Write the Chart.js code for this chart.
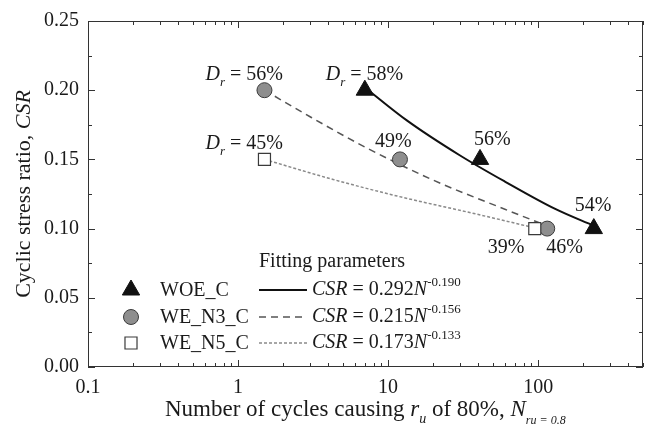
<!DOCTYPE html>
<html>
<head>
<meta charset="utf-8">
<script src="https://cdn.jsdelivr.net/npm/chart.js@4.4.0/dist/chart.umd.min.js"></script>
<style>
    html, body { margin: 0; padding: 0; background: #fff; }
</style>
</head>
<body>
<canvas id="myChart" width="654" height="426"></canvas>
<script>
// measured points (N cycles to ru = 0.8, CSR) and relative density labels
var woeN = [7, 41, 235];
var woeCSR = [0.20, 0.15, 0.10];
var woeDr = ['58%', '56%', '54%'];

var n3N = [1.5, 12, 115];
var n3CSR = [0.20, 0.15, 0.10];
var n3Dr = ['56%', '49%', '46%'];

var n5N = [1.5, 95];
var n5CSR = [0.15, 0.10];
var n5Dr = ['45%', '39%'];

// fitted curves
var woeFitN = [7, 13.4, 30, 60, 131, 235];
var woeFitCSR = [0.202, 0.178, 0.153, 0.134, 0.114, 0.102];

var n3FitN = [1.5, 3, 7, 20, 60, 115];
var n3FitCSR = [0.200, 0.181, 0.159, 0.135, 0.114, 0.102];

var n5FitN = [1.5, 4.3, 11.5, 38.8, 95];
var n5FitCSR = [0.150, 0.1355, 0.1235, 0.1105, 0.1005];

var seriesNames = ['WOE_C', 'WE_N3_C', 'WE_N5_C'];
var fitA = ['0.292', '0.215', '0.173'];
var fitB = ['-0.190', '-0.156', '-0.133'];

var xTicks = [0.1, 1, 10, 100];
var yTicks = [0, 0.05, 0.10, 0.15, 0.20, 0.25];

var SERIF = "'Liberation Serif', 'Times New Roman', serif";
var INK = '#1a1a1a';

function pts(xs, ys) {
    return xs.map(function (x, i) { return { x: x, y: ys[i] }; });
}

function font(sz, it) {
    return (it ? 'italic ' : '') + sz + 'px ' + SERIF;
}

// draws text made of several pieces (italic, sub/superscript)
function richText(ctx, x, y, parts, align) {
    var w = 0;
    parts.forEach(function (p) {
        ctx.font = font(p.sz || 20, p.it);
        p.w = ctx.measureText(p.t).width;
        w += p.w;
    });
    var cx = align === 'center' ? x - w / 2 : x;
    ctx.textAlign = 'left';
    ctx.textBaseline = 'alphabetic';
    parts.forEach(function (p) {
        ctx.font = font(p.sz || 20, p.it);
        ctx.fillText(p.t, cx, y + (p.dy || 0));
        cx += p.w;
    });
}

var markerStyle = [
    { style: 'triangle', r: 10, bg: '#111', bd: '#111', bw: 1 },
    { style: 'circle', r: 7.5, bg: '#8e8e8e', bd: '#3a3a3a', bw: 1 },
    { style: 'rect', r: 8.5, bg: '#fff', bd: '#3a3a3a', bw: 1.2 }
];
var lineStyle = [
    { color: '#111', width: 2, dash: [] },
    { color: '#555', width: 1.5, dash: [7, 5] },
    { color: '#8a8a8a', width: 1.5, dash: [3, 2] }
];

// label offsets from the point (left edge, baseline)
var labelOffsets = [
    [[-39, -10], [-6, -14], [-19, -18]],
    [[-59, -10], [-25, -12], [-1, 24]],
    [[-59, -10], [-47, 24]]
];

function drawMarker(ctx, m, x, y) {
    ctx.save();
    ctx.fillStyle = m.bg;
    ctx.strokeStyle = m.bd;
    ctx.lineWidth = m.bw;
    ctx.beginPath();
    if (m.style === 'triangle') {
        var s = m.r * Math.sqrt(3) / 2;
        ctx.moveTo(x, y - m.r);
        ctx.lineTo(x + s, y + m.r / 2);
        ctx.lineTo(x - s, y + m.r / 2);
        ctx.closePath();
    } else if (m.style === 'circle') {
        ctx.arc(x, y, m.r, 0, Math.PI * 2);
    } else {
        var h = m.r * Math.SQRT1_2;
        ctx.rect(x - h, y - h, 2 * h, 2 * h);
    }
    ctx.fill();
    ctx.stroke();
    ctx.restore();
}

var decorPlugin = {
    id: 'decor',
    afterDraw: function (chart) {
        var ctx = chart.ctx;
        var a = chart.chartArea;
        var xs = chart.scales.x;
        var ys = chart.scales.y;

        ctx.save();
        // frame
        ctx.strokeStyle = '#333';
        ctx.lineWidth = 1;
        ctx.strokeRect(a.left + 0.5, a.top + 0.5, a.right - a.left - 1, a.bottom - a.top - 1);

        // inward ticks
        ctx.beginPath();
        for (var v = 0; v <= 0.2501; v += 0.025) {
            var py = Math.round(ys.getPixelForValue(v)) + 0.5;
            var major = Math.abs(v / 0.05 - Math.round(v / 0.05)) < 1e-6;
            var len = major ? 7 : 4;
            ctx.moveTo(a.left, py); ctx.lineTo(a.left + len, py);
            ctx.moveTo(a.right, py); ctx.lineTo(a.right - len, py);
        }
        xTicks.forEach(function (d) {
            for (var m = 1; m <= 9; m++) {
                var val = d * m;
                if (val > xs.max) break;
                var px = Math.round(xs.getPixelForValue(val)) + 0.5;
                var len = m === 1 ? 7 : 4;
                ctx.moveTo(px, a.bottom); ctx.lineTo(px, a.bottom - len);
                ctx.moveTo(px, a.top); ctx.lineTo(px, a.top + len);
            }
        });
        ctx.stroke();

        ctx.fillStyle = INK;

        // axis titles
        richText(ctx, 165, 416, [
            { t: 'Number of cycles causing ', sz: 23 },
            { t: 'r', it: 1, sz: 23 },
            { t: 'u', it: 1, sz: 14, dy: 7 },
            { t: ' of 80%, ', sz: 23 },
            { t: 'N', it: 1, sz: 23 },
            { t: 'ru = 0.8', it: 1, sz: 12, dy: 8 }
        ], 'left');

        ctx.save();
        ctx.translate(30, (a.top + a.bottom) / 2);
        ctx.rotate(-Math.PI / 2);
        richText(ctx, 0, 0, [
            { t: 'Cyclic stress ratio, ', sz: 22 },
            { t: 'CSR', it: 1, sz: 22 }
        ], 'center');
        ctx.restore();

        // point labels
        var sets = [[woeN, woeCSR, woeDr], [n3N, n3CSR, n3Dr], [n5N, n5CSR, n5Dr]];
        sets.forEach(function (s, si) {
            s[0].forEach(function (n, i) {
                var px = xs.getPixelForValue(n) + labelOffsets[si][i][0];
                var py = ys.getPixelForValue(s[1][i]) + labelOffsets[si][i][1];
                var parts = [];
                if (i === 0) {
                    parts.push({ t: 'D', it: 1, sz: 20 });
                    parts.push({ t: 'r', it: 1, sz: 13, dy: 6 });
                    parts.push({ t: ' = ', sz: 20 });
                }
                parts.push({ t: s[2][i], sz: 20 });
                richText(ctx, px, py, parts, 'left');
            });
        });

        // legend
        richText(ctx, 259, 267, [{ t: 'Fitting parameters', sz: 20 }], 'left');
        var rowY = [290, 317, 343];
        seriesNames.forEach(function (name, i) {
            var y = rowY[i];
            drawMarker(ctx, markerStyle[i], 131, y);
            ctx.fillStyle = INK;
            richText(ctx, 160, y + 6, [{ t: name, sz: 20 }], 'left');
            ctx.save();
            ctx.strokeStyle = lineStyle[i].color;
            ctx.lineWidth = lineStyle[i].width;
            ctx.setLineDash(lineStyle[i].dash);
            ctx.beginPath();
            ctx.moveTo(259, y);
            ctx.lineTo(307, y);
            ctx.stroke();
            ctx.restore();
            richText(ctx, 312, y + 5, [
                { t: 'CSR', it: 1, sz: 20 },
                { t: ' = ' + fitA[i], sz: 20 },
                { t: 'N', it: 1, sz: 20 },
                { t: fitB[i], sz: 13, dy: -9 }
            ], 'left');
        });
        ctx.restore();
    }
};

function pointSet(label, xs, ys, m) {
    return {
        label: label,
        data: pts(xs, ys),
        showLine: false,
        pointStyle: m.style,
        pointRadius: m.r,
        pointHoverRadius: m.r,
        pointBackgroundColor: m.bg,
        pointBorderColor: m.bd,
        pointBorderWidth: m.bw,
        order: 1
    };
}

function fitSet(label, xs, ys, l) {
    return {
        label: label,
        data: pts(xs, ys),
        showLine: true,
        pointRadius: 0,
        borderColor: l.color,
        borderWidth: l.width,
        borderDash: l.dash,
        cubicInterpolationMode: 'monotone',
        fill: false,
        order: 2
    };
}

var ctx = document.getElementById('myChart').getContext('2d');

var myChart = new Chart(ctx, {
    type: 'scatter',
    data: {
        datasets: [
            fitSet('WOE_C fit', woeFitN, woeFitCSR, lineStyle[0]),
            fitSet('WE_N3_C fit', n3FitN, n3FitCSR, lineStyle[1]),
            fitSet('WE_N5_C fit', n5FitN, n5FitCSR, lineStyle[2]),
            pointSet('WE_N5_C', n5N, n5CSR, markerStyle[2]),
            pointSet('WE_N3_C', n3N, n3CSR, markerStyle[1]),
            pointSet('WOE_C', woeN, woeCSR, markerStyle[0])
        ]
    },
    options: {
        responsive: false,
        animation: false,
        layout: { padding: { top: 18, right: 6, left: 0, bottom: 0 } },
        plugins: {
            legend: { display: false },
            tooltip: { enabled: false }
        },
        scales: {
            x: {
                type: 'logarithmic',
                min: 0.1,
                max: 500,
                grid: { display: false, drawTicks: false },
                border: { display: false },
                afterBuildTicks: function (s) {
                    s.ticks = xTicks.map(function (v) { return { value: v }; });
                },
                afterFit: function (s) { s.height = 59; },
                ticks: {
                    autoSkip: false,
                    maxRotation: 0,
                    padding: 9,
                    color: INK,
                    font: { family: SERIF, size: 20 },
                    callback: function (v) { return v < 1 ? v.toFixed(1) : String(Math.round(v)); }
                }
            },
            y: {
                min: 0,
                max: 0.25,
                grid: { display: false, drawTicks: false },
                border: { display: false },
                afterBuildTicks: function (s) {
                    s.ticks = yTicks.map(function (v) { return { value: v }; });
                },
                afterFit: function (s) { s.width = 88; },
                ticks: {
                    padding: 9,
                    color: INK,
                    font: { family: SERIF, size: 20 },
                    callback: function (v) { return v.toFixed(2); }
                }
            }
        }
    },
    plugins: [decorPlugin]
});
</script>
</body>
</html>
